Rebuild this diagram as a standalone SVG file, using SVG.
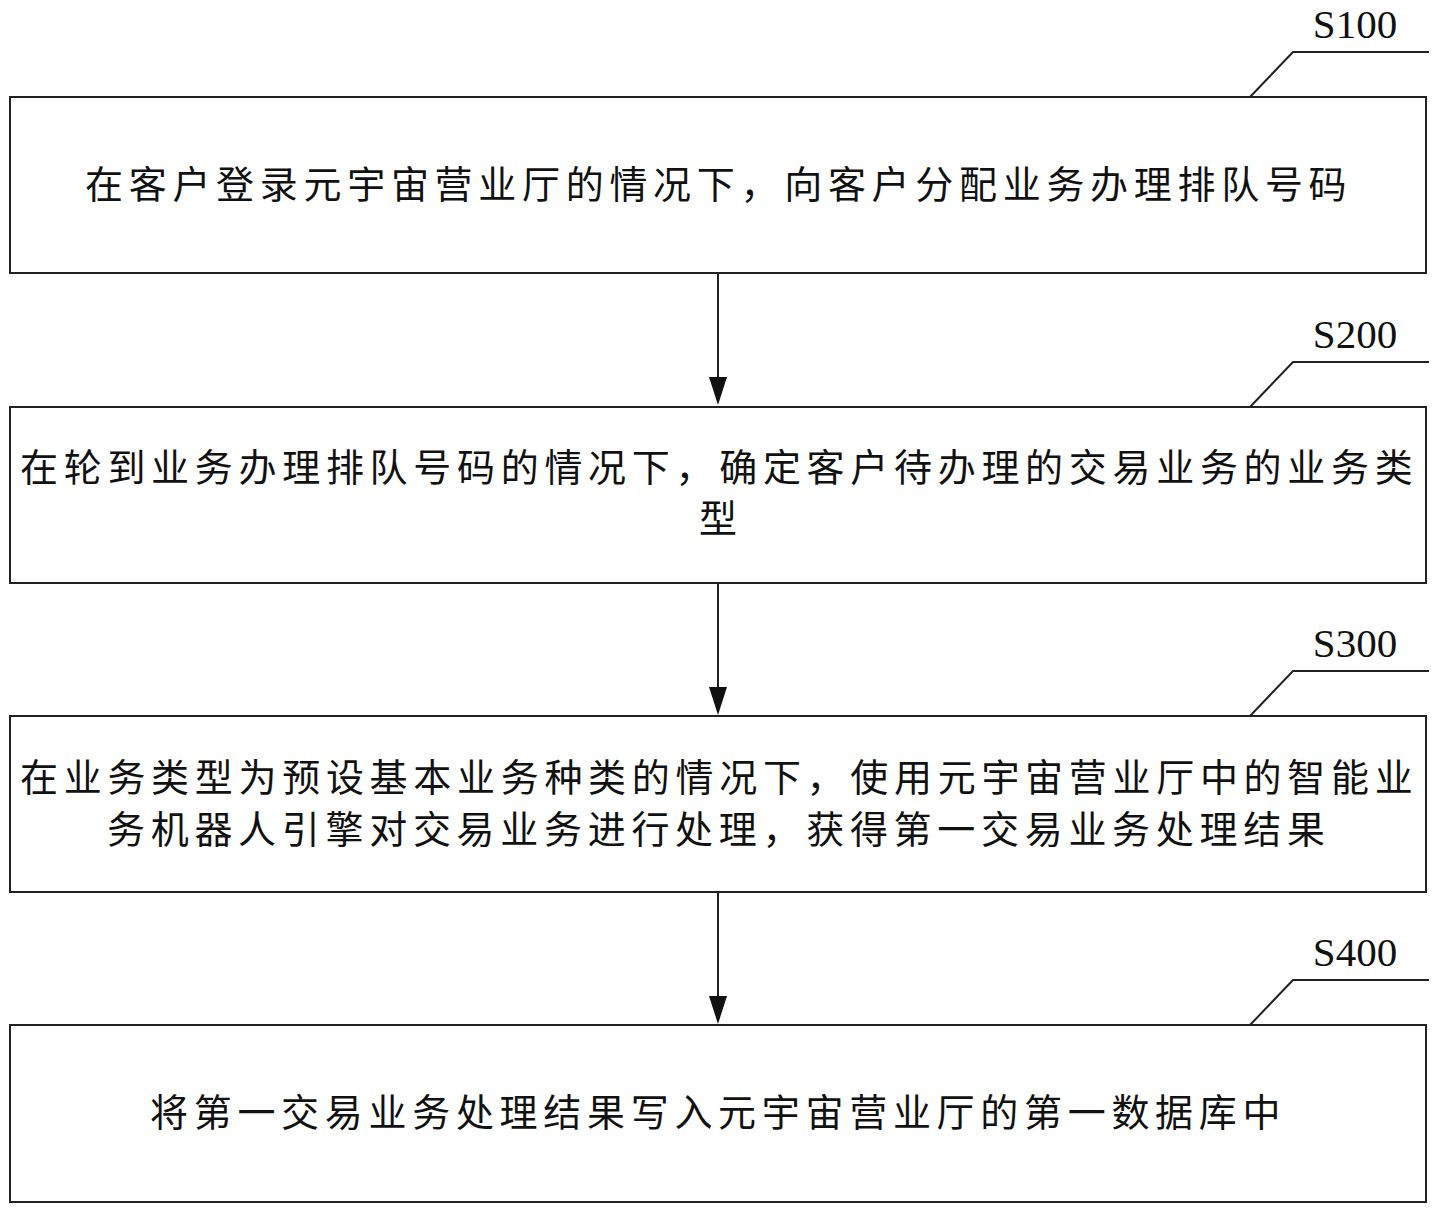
<svg xmlns="http://www.w3.org/2000/svg" width="1440" height="1214" viewBox="0 0 1440 1214">
<style>
.box{fill:#fff;stroke:#222;stroke-width:2}
.lead{fill:none;stroke:#222;stroke-width:2}
.t{font-family:"Noto Sans CJK SC","Noto Sans CJK JP",sans-serif;font-size:38px;letter-spacing:5.7px;fill:#111}
.s{font-family:"Liberation Serif","Times New Roman",serif;font-size:41px;fill:#111;text-anchor:middle}
.conn{stroke:#222;stroke-width:2}
.head{fill:#111}
</style>
<rect width="1440" height="1214" fill="#fff"/>
<g id="connectors">
<line class="conn" x1="718" y1="273" x2="718" y2="380"/>
<polygon class="head" points="709,377 727,377 718,405"/>
<line class="conn" x1="718" y1="583" x2="718" y2="690"/>
<polygon class="head" points="709,687 727,687 718,715"/>
<line class="conn" x1="718" y1="892" x2="718" y2="999"/>
<polygon class="head" points="709,996 727,996 718,1024"/>
</g>
<g id="S100">
<rect class="box" x="10" y="97" width="1416" height="176"/>
<polyline class="lead" points="1250,97 1293,52 1429,52"/>
<text class="s" x="1355" y="38">S100</text>
<text class="t" x="85" y="198">在客户登录元宇宙营业厅的情况下，向客户分配业务办理排队号码</text>
</g>
<g id="S200">
<rect class="box" x="10" y="407" width="1416" height="176"/>
<polyline class="lead" points="1250,407 1293,362 1429,362"/>
<text class="s" x="1355" y="348">S200</text>
<text class="t" x="20" y="481">在轮到业务办理排队号码的情况下，确定客户待办理的交易业务的业务类</text>
<text class="t" x="699" y="532">型</text>
</g>
<g id="S300">
<rect class="box" x="10" y="716" width="1416" height="176"/>
<polyline class="lead" points="1250,716 1293,671 1429,671"/>
<text class="s" x="1355" y="657">S300</text>
<text class="t" x="20" y="791">在业务类型为预设基本业务种类的情况下，使用元宇宙营业厅中的智能业</text>
<text class="t" x="107" y="843">务机器人引擎对交易业务进行处理，获得第一交易业务处理结果</text>
</g>
<g id="S400">
<rect class="box" x="10" y="1025" width="1416" height="177"/>
<polyline class="lead" points="1250,1025 1293,980 1429,980"/>
<text class="s" x="1355" y="966">S400</text>
<text class="t" x="150" y="1126">将第一交易业务处理结果写入元宇宙营业厅的第一数据库中</text>
</g>
</svg>
